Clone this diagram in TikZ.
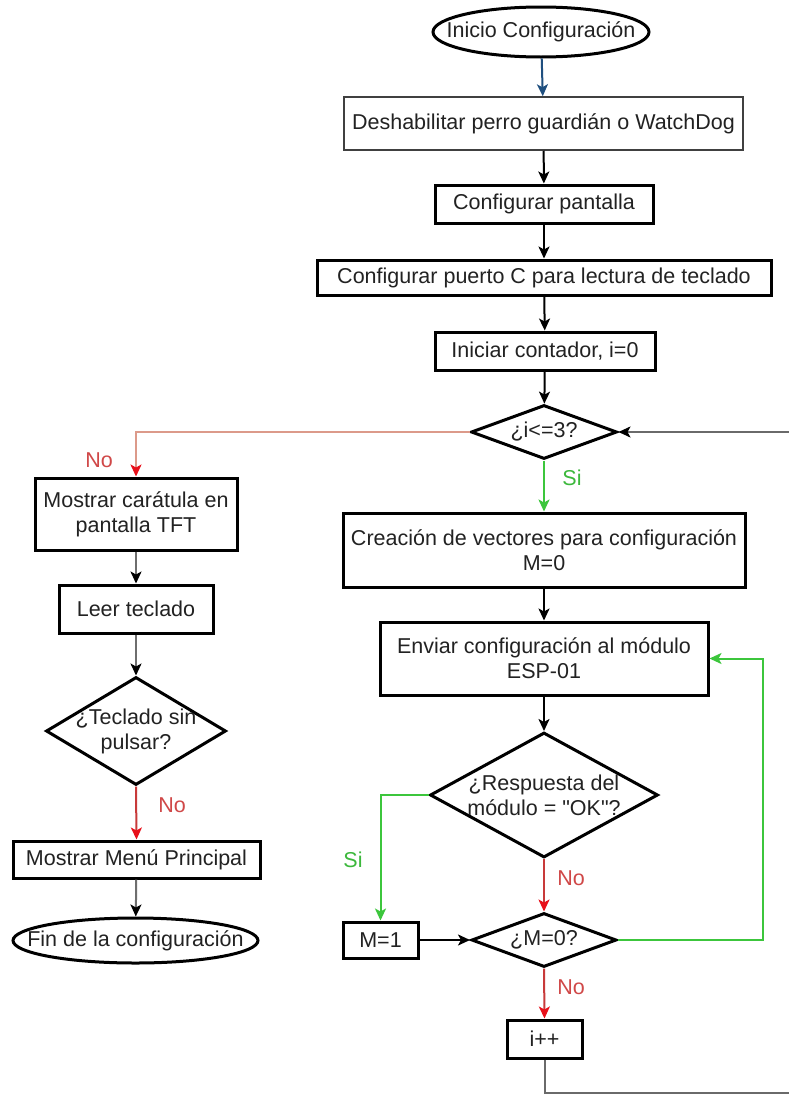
\documentclass[tikz,border=0pt]{standalone}
\usepackage{fontspec}
\setmainfont{Liberation Sans}[Ligatures=TeXOff]
\usetikzlibrary{shapes.geometric,arrows.meta}

\definecolor{ink}{HTML}{222222}
\definecolor{flowgray}{HTML}{6E6E6E}
\definecolor{loopgray}{HTML}{6A6A6A}
\definecolor{noline}{HTML}{C83A3A}
\definecolor{nosoft}{HTML}{DC9A8A}
\definecolor{notip}{HTML}{E8101A}
\definecolor{yesline}{HTML}{3CC63C}
\definecolor{notext}{HTML}{D04848}
\definecolor{yestext}{HTML}{3CB83C}
\definecolor{startblue}{HTML}{1F4F7F}

\tikzset{
  procbox/.style={draw=black, line width=3pt, fill=white, inner sep=0pt,
    align=center, text=ink},
  thinbox/.style={procbox, line width=1.5pt, draw=black!75},
  decision/.style={diamond, draw=black, line width=3pt, fill=white, inner sep=0pt},
  terminal/.style={ellipse, draw=black, line width=3pt, fill=white, inner sep=0pt},
  inner/.style={align=center, text=ink, inner sep=0pt},
  flow/.style={line width=2pt, draw=black,
    -{Stealth[length=12pt,width=11pt,inset=3pt]}},
  noflow/.style={flow, draw=noline, -{Stealth[length=12pt,width=11pt,inset=3pt,color=notip]}},
  yesflow/.style={flow, draw=yesline},
  greyflow/.style={flow, draw=flowgray, -{Stealth[length=12pt,width=11pt,inset=3pt,color=black]}},
  notag/.style={text=notext, inner sep=0pt},
  yestag/.style={text=yestext, inner sep=0pt},
}

\begin{document}
\begin{tikzpicture}[x=1pt, y=-1pt, font=\fontsize{21.5}{25}\selectfont]
\useasboundingbox[fill=white] (0,0) rectangle (788,1095);

% main column
\node[terminal, minimum width=216, minimum height=50,
      label={[inner]center:Inicio Configuración}] (start) at (541,32) {};
\node[thinbox, minimum width=399, minimum height=53] (wd) at (543.5,123.5)
      {Deshabilitar perro guardián o WatchDog};
\node[procbox, minimum width=218, minimum height=38] (pant) at (544,204)
      {Configurar pantalla};
\node[procbox, minimum width=454, minimum height=35] (puerto) at (544,277.5)
      {Configurar puerto C para lectura de teclado};
\node[procbox, minimum width=220, minimum height=38] (count) at (545,351)
      {Iniciar contador, i=0};
\node[decision, minimum width=146, minimum height=54,
      label={[inner]center:¿i<=3?}] (dloop) at (544,432) {};
\node[procbox, minimum width=402, minimum height=74] (crea) at (544,550)
      {Creación de vectores para configuración\\M=0};
\node[procbox, minimum width=328, minimum height=73] (env) at (544,658.5)
      {Enviar configuración al módulo\\ESP-01};
\node[decision, minimum width=228, minimum height=125,
      label={[inner]center:¿Respuesta del\\módulo = "OK"?}] (resp) at (544,795) {};
\node[procbox, minimum width=75, minimum height=36] (m1) at (380.5,940) {M=1};
\node[decision, minimum width=145, minimum height=54,
      label={[inner]center:¿M=0?}] (dm0) at (544,940) {};
\node[procbox, minimum width=75, minimum height=38] (ipp) at (544.5,1039) {i++};

% left column
\node[procbox, minimum width=202, minimum height=72] (tft) at (136,514)
      {Mostrar carátula en\\pantalla TFT};
\node[procbox, minimum width=154, minimum height=48] (leer) at (136,609)
      {Leer teclado};
\node[decision, minimum width=180, minimum height=108,
      label={[inner]center:¿Teclado sin\\pulsar?}] (dtec) at (136,731) {};
\node[procbox, minimum width=247, minimum height=37] (menu) at (136.5,859.5)
      {Mostrar Menú Principal};
\node[terminal, minimum width=245, minimum height=45,
      label={[inner]center:Fin de la configuración}] (fin) at (135.5,940.5) {};

% return paths
\coordinate (ret) at (763,940);
\coordinate (loopbot) at (792,1093);
\coordinate (looptop) at (792,432);

% connectors
\draw[flow, draw=startblue] (start) -- (wd);
\draw[flow] (wd) -- (pant);
\draw[flow] (pant) -- (puerto);
\draw[flow] (puerto) -- (count);
\draw[flow] (count) -- (dloop);
\draw[noflow, draw=nosoft] (dloop.west) -| (tft.north);
\draw[yesflow] (dloop.south) -- (crea.north);
\draw[flow] (crea) -- (env);
\draw[flow] (env) -- (resp.north);
\draw[yesflow] (resp.west) -| (m1.north);
\draw[noflow] (resp.south) -- (dm0.north);
\draw[flow] (m1.east) -- (dm0.west);
\draw[yesflow] (dm0.east) -- (ret) |- (env.east);
\draw[noflow] (dm0.south) -- (ipp.north);
\draw[greyflow, draw=loopgray]
  (ipp.south) |- (loopbot) -- (looptop) -- (dloop.east);

\draw[greyflow] (tft) -- (leer);
\draw[greyflow] (leer) -- (dtec.north);
\draw[noflow] (dtec.south) -- (menu.north);
\draw[greyflow] (menu) -- (fin);

% branch labels
\node[notag] (no1) at (99,460) {No};
\node[yestag] (si1) at (572,478) {Si};
\node[yestag] (si2) at (353,860) {Si};
\node[notag] (no2) at (571,878) {No};
\node[notag] (no3) at (571,987) {No};
\node[notag] (no4) at (172,805) {No};
\end{tikzpicture}
\end{document}
